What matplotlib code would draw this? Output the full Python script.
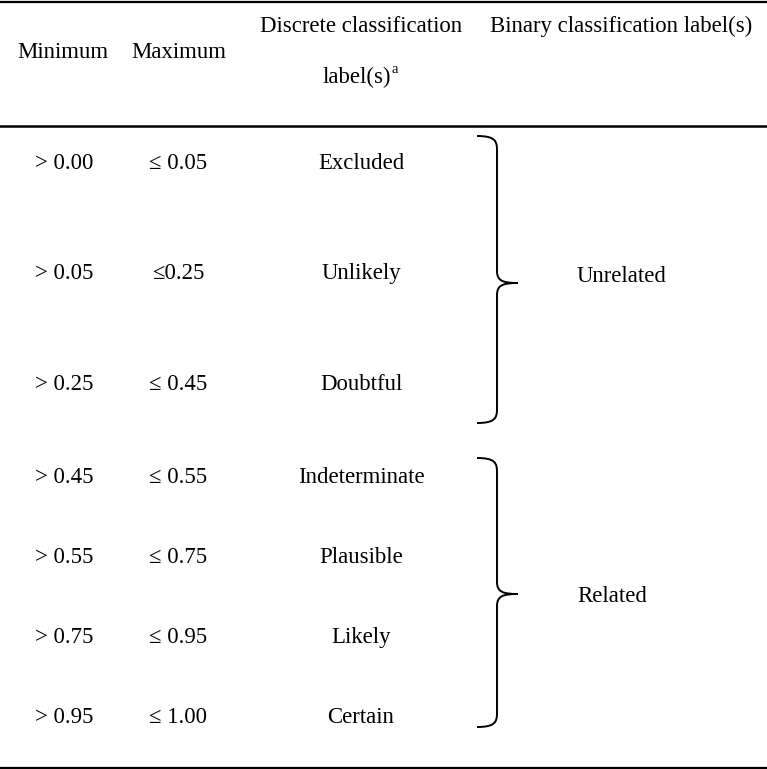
import matplotlib
matplotlib.use("Agg")
import matplotlib.pyplot as plt
from matplotlib.path import Path
from matplotlib.patches import PathPatch

# Table content
minimum = ["> 0.00", "> 0.05", "> 0.25", "> 0.45", "> 0.55", "> 0.75", "> 0.95"]
maximum = ["\u2264 0.05", "\u22640.25", "\u2264 0.45", "\u2264 0.55", "\u2264 0.75", "\u2264 0.95", "\u2264 1.00"]
discrete = ["Excluded", "Unlikely", "Doubtful", "Indeterminate", "Plausible", "Likely", "Certain"]
binary = ["Unrelated", "Related"]

# Layout (pixels, y down)
W, H = 767, 769
row_base = [169, 279, 390, 483, 563, 643, 723]
col_x = [64, 178, 361]
brace_spans = [(136, 283, 423), (458, 594, 727)]  # top, tip, bottom
label_x = 577
label_base = [282, 602]
fs = 16.4
font = ["Liberation Serif", "DejaVu Serif"]

fig = plt.figure(figsize=(W / 100, H / 100), dpi=100)
ax = fig.add_axes([0, 0, 1, 1])
ax.set_xlim(0, W)
ax.set_ylim(H, 0)
ax.axis("off")


def txt(x, y, s, ha="center", size=fs):
    ax.text(x, y, s, ha=ha, va="baseline", fontsize=size, family=font)


# header
txt(63, 58, "Minimum")
txt(179, 58, "Maximum")
txt(361, 32, "Discrete classification")
txt(391, 83, "label(s)", ha="right")
txt(391.5, 73, "a", ha="left", size=10.5)
txt(621, 32, "Binary classification label(s)")

# rules
ax.plot([0, W], [1.5, 1.5], color="black", lw=1.6)
ax.plot([0, W], [125.5, 125.5], color="black", lw=1.8)
ax.plot([0, W], [767.5, 767.5], color="black", lw=1.6)

# rows
for y, mn, mx, d in zip(row_base, minimum, maximum, discrete):
    txt(col_x[0], y, mn)
    txt(col_x[1], y, mx)
    txt(col_x[2], y, d)


def brace(x0, top, mid, bot, xv=497, xt=518):
    verts = [
        (x0, top), (xv - 2, top), (xv, top + 5), (xv, top + 14),
        (xv, mid - 12),
        (xv, mid - 2), (xv + 6, mid), (xt, mid),
        (xv + 6, mid), (xv, mid + 2), (xv, mid + 12),
        (xv, bot - 14),
        (xv, bot - 5), (xv - 2, bot), (x0, bot),
    ]
    codes = [Path.MOVETO, Path.CURVE4, Path.CURVE4, Path.CURVE4,
             Path.LINETO,
             Path.CURVE4, Path.CURVE4, Path.CURVE4,
             Path.CURVE4, Path.CURVE4, Path.CURVE4,
             Path.LINETO,
             Path.CURVE4, Path.CURVE4, Path.CURVE4]
    ax.add_patch(PathPatch(Path(verts, codes), fill=False, lw=1.4, color="black"))


for (top, tip, bot), ly, lab in zip(brace_spans, label_base, binary):
    brace(477, top, tip, bot)
    txt(label_x, ly, lab, ha="left")

fig.savefig("out.png", dpi=100)
